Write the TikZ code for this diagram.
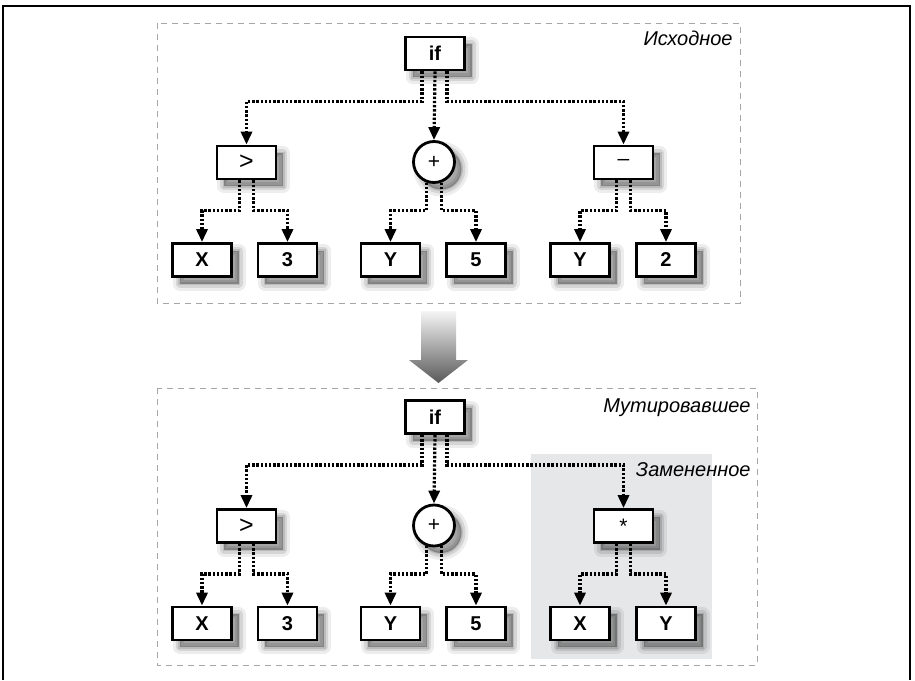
\documentclass[tikz,border=0pt]{standalone}
\usepackage{fontspec}
\setmainfont{Liberation Sans}
\usetikzlibrary{arrows.meta,shadows}
\definecolor{replgray}{HTML}{E6E7E8}

\begin{document}
\begin{tikzpicture}[x=0.5pt,y=-0.5pt,
  soft/.style={
    general shadow={shadow xshift=3.5pt,shadow yshift=-3.5pt,draw=black,draw opacity=0.07,line width=7pt,line join=round},
    general shadow={shadow xshift=3.5pt,shadow yshift=-3.5pt,draw=black,draw opacity=0.1,line width=4pt,line join=round},
    general shadow={shadow xshift=3.5pt,shadow yshift=-3.5pt,fill=black,fill opacity=0.3,draw=black,draw opacity=0.12,line width=1.5pt}},
  leaf/.style={draw,line width=1.4pt,fill=white,minimum width=29.5pt,minimum height=16.5pt,
    inner sep=0pt,font=\bfseries\fontsize{10}{11}\selectfont,soft},
  op/.style={leaf,font=\fontsize{10.5}{11}\selectfont},
  opcirc/.style={op,circle,minimum width=0pt,minimum height=0pt,minimum size=20.5pt},
  link/.style={line width=1.6pt,dash pattern=on 1.2pt off 0.9pt,-{Triangle[width=5.5pt,length=6.5pt]}},
  frame/.style={gray!70,line width=0.5pt,dash pattern=on 3pt off 2.5pt},
  tag/.style={anchor=east,inner sep=0pt,font=\itshape\fontsize{10}{12}\selectfont}]
  \useasboundingbox (0,0) rectangle (915,680);
  \draw[line width=1pt] (3,680) -- (3,6) -- (910,6) -- (910,680);
  % original tree
  \draw[frame] (157,23) rectangle (740,303);
  \node[tag] (origtag) at (733,38) {Исходное};
  \node[leaf]   (ifA)    at (435,53.5)    {if};
  \node[op,font=\fontsize{12.5}{13}\selectfont] (gtA) at (246.5,162.5) {>};
  \node[opcirc] (plusA)  at (434,162)     {+};
  \node[op]     (minusA) at (623.5,162.5) {–};
  \node[leaf] (xA)     at (202,260)   {X};
  \node[leaf] (threeA) at (287.5,260) {3};
  \node[leaf] (yA)     at (390.5,260) {Y};
  \node[leaf] (fiveA)  at (476,260)   {5};
  \node[leaf] (yyA)    at (580,260)   {Y};
  \node[leaf] (twoA)   at (666,260)   {2};
  \draw[link] ([xshift=-6.5pt]ifA.south) -- ++(0,30) -| (gtA.north);
  \draw[link] (ifA.south) -- (plusA.north);
  \draw[link] ([xshift=6pt]ifA.south) -- ++(0,30) -| (minusA.north);
  \draw[link] ([xshift=-3.5pt]gtA.south) -- ++(0,30) -| (xA.north);
  \draw[link] ([xshift=3.5pt]gtA.south) -- ++(0,30) -| (threeA.north);
  \draw[link] (plusA.-110) -- ++(0,28) -| (yA.north);
  \draw[link] (plusA.-70) -- ++(0,28) -| (fiveA.north);
  \draw[link] ([xshift=-3.5pt]minusA.south) -- ++(0,30) -| (yyA.north);
  \draw[link] ([xshift=3.5pt]minusA.south) -- ++(0,30) -| (twoA.north);
  % mutation arrow
  \shade[top color=gray!8,bottom color=black!65]
    (421,311) -- (456,311) -- (456,360) -- (468,360) -- (438.5,383)
    -- (409,360) -- (421,360) -- cycle;
  % mutated tree
  \draw[frame] (157,388) rectangle (757,665);
  \fill[replgray] (531,454) rectangle (712,659);
  \node[tag] (muttag) at (751,408) {Мутировавшее};
  \node[tag] (reptag) at (751,470) {Замененное};
  \node[leaf]   (ifB)    at (435,417)   {if};
  \node[op,font=\fontsize{12.5}{13}\selectfont] (gtB) at (246.5,526) {>};
  \node[opcirc] (plusB)  at (434,525.5) {+};
  \node[op]     (starB)  at (623.5,526) {*};
  \node[leaf] (xB)     at (202,623.5)   {X};
  \node[leaf] (threeB) at (287.5,623.5) {3};
  \node[leaf] (yB)     at (390.5,623.5) {Y};
  \node[leaf] (fiveB)  at (476,623.5)   {5};
  \node[leaf] (xxB)    at (580,623.5)   {X};
  \node[leaf] (yyB)    at (666,623.5)   {Y};
  \draw[link] ([xshift=-6.5pt]ifB.south) -- ++(0,30) -| (gtB.north);
  \draw[link] (ifB.south) -- (plusB.north);
  \draw[link] ([xshift=6pt]ifB.south) -- ++(0,30) -| (starB.north);
  \draw[link] ([xshift=-3.5pt]gtB.south) -- ++(0,30) -| (xB.north);
  \draw[link] ([xshift=3.5pt]gtB.south) -- ++(0,30) -| (threeB.north);
  \draw[link] (plusB.-110) -- ++(0,28) -| (yB.north);
  \draw[link] (plusB.-70) -- ++(0,28) -| (fiveB.north);
  \draw[link] ([xshift=-3.5pt]starB.south) -- ++(0,30) -| (xxB.north);
  \draw[link] ([xshift=3.5pt]starB.south) -- ++(0,30) -| (yyB.north);
\end{tikzpicture}
\end{document}
